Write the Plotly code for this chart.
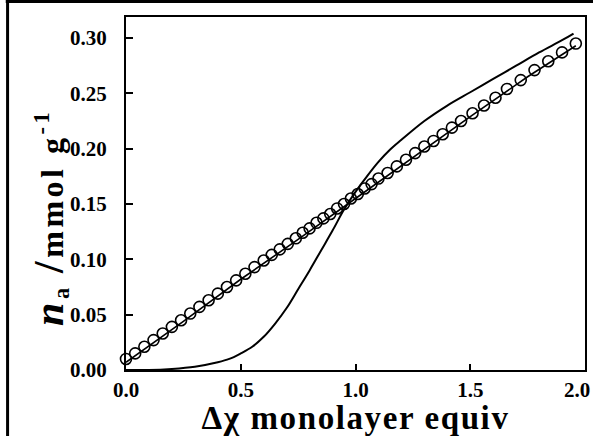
import plotly.graph_objects as go

# Measured data (open circles)
data_x = [0.00, 0.04, 0.08, 0.12, 0.16, 0.20, 0.24, 0.28, 0.32, 0.36, 0.40, 0.44, 0.48,
          0.52, 0.56, 0.60, 0.635, 0.67, 0.705, 0.74, 0.77, 0.80, 0.83, 0.86, 0.89, 0.92,
          0.95, 0.98, 1.01, 1.04, 1.07, 1.10, 1.14, 1.18, 1.22, 1.26, 1.30, 1.34, 1.38,
          1.42, 1.46, 1.51, 1.56, 1.61, 1.66, 1.72, 1.78, 1.84, 1.90, 1.96]
data_y = [0.010, 0.015, 0.021, 0.027, 0.033, 0.039, 0.045, 0.051, 0.057, 0.063, 0.069, 0.075, 0.081,
          0.087, 0.093, 0.099, 0.104, 0.109, 0.114, 0.119, 0.124, 0.128, 0.133, 0.137, 0.141, 0.146,
          0.150, 0.155, 0.159, 0.164, 0.168, 0.173, 0.178, 0.184, 0.190, 0.196, 0.202, 0.207, 0.213,
          0.219, 0.225, 0.232, 0.239, 0.246, 0.254, 0.262, 0.271, 0.279, 0.287, 0.295]

# Fit line through the circles
fit_x = [0.00, 0.25, 0.50, 0.75, 1.00, 1.25, 1.50, 1.75, 1.96]
fit_y = [0.007, 0.044, 0.082, 0.118, 0.155, 0.192, 0.229, 0.265, 0.293]

# Sigmoidal model curve
sig_x = [0.00, 0.10, 0.20, 0.30, 0.40, 0.45, 0.50, 0.55, 0.60, 0.65, 0.70, 0.75, 0.80, 0.85,
         0.90, 0.95, 1.00, 1.05, 1.10, 1.15, 1.20, 1.30, 1.40, 1.50, 1.60, 1.70, 1.80, 1.90, 1.95]
sig_y = [0.000, 0.000, 0.001, 0.003, 0.007, 0.010, 0.015, 0.021, 0.030, 0.042, 0.056, 0.073, 0.090, 0.108,
         0.126, 0.145, 0.161, 0.175, 0.188, 0.199, 0.208, 0.225, 0.239, 0.251, 0.263, 0.275, 0.287, 0.298, 0.304]

x_ticks = [0.0, 0.5, 1.0, 1.5, 2.0]
x_tick_labels = ["0.0", "0.5", "1.0", "1.5", "2.0"]
y_ticks = [0.00, 0.05, 0.10, 0.15, 0.20, 0.25, 0.30]
y_tick_labels = ["0.00", "0.05", "0.10", "0.15", "0.20", "0.25", "0.30"]

# keep the last x label inside the picture (it sits at the right edge in the original)
x_tick_text = [lab + ("&nbsp;" * 3 if i == len(x_tick_labels) - 1 else "")
               for i, lab in enumerate(x_tick_labels)]

fig = go.Figure()
fig.add_trace(go.Scatter(x=data_x, y=data_y, mode="markers",
                         marker=dict(symbol="circle-open", size=11, color="black",
                                     line=dict(width=1.6, color="black")),
                         showlegend=False, cliponaxis=False))
fig.add_trace(go.Scatter(x=fit_x, y=fit_y, mode="lines", line=dict(color="black", width=1.6),
                         showlegend=False))
fig.add_trace(go.Scatter(x=sig_x, y=sig_y, mode="lines", line=dict(color="black", width=2),
                         line_shape="spline", showlegend=False))

font_family = "Liberation Serif"
y_title = ('<b><span style="letter-spacing:3.5px"><span style="font-size:42px"><i>n</i></span>'
           '<sub>a</sub> <span style="font-size:42px">/</span>mmol g<sup>-1</sup></span></b>')
x_title = '<b><span style="letter-spacing:1.6px">Δχ monolayer equiv</span></b>'

fig.update_layout(
    width=593, height=436,
    margin=dict(l=126, r=8, t=17, b=66, autoexpand=False),
    paper_bgcolor="white", plot_bgcolor="white",
    font=dict(family=font_family, color="black"),
    xaxis=dict(range=[0, 2.0], tickvals=x_ticks, ticktext=x_tick_text, automargin=False,
               ticks="inside", ticklen=6, tickwidth=1.5, tickcolor="black",
               showline=True, linecolor="black", linewidth=2, mirror=True,
               showgrid=False, zeroline=False, ticklabeloverflow="allow",
               tickfont=dict(family=font_family, size=21, color="black", weight="bold"),
               title=dict(text=x_title, standoff=4,
                          font=dict(family=font_family, size=33, color="black"))),
    yaxis=dict(range=[0, 0.319], tickvals=y_ticks, ticktext=y_tick_labels, automargin=False,
               ticks="inside", ticklen=7, tickwidth=1.5, tickcolor="black",
               showline=True, linecolor="black", linewidth=2, mirror=True,
               showgrid=False, zeroline=False, ticklabelstandoff=13,
               tickfont=dict(family=font_family, size=21, color="black", weight="bold")),
    annotations=[
        dict(text=y_title, xref="paper", yref="paper", x=-0.166, y=0.433,
             xanchor="center", yanchor="middle", textangle=-90, showarrow=False,
             font=dict(family=font_family, size=32, color="black")),
    ],
    shapes=[
        dict(type="line", xref="paper", yref="paper", x0=-0.258, x1=-0.258, y0=1.05, y1=-0.19,
             line=dict(color="black", width=3)),
        dict(type="line", xref="paper", yref="paper", x0=-0.262, x1=1.02, y0=1.044, y1=1.044,
             line=dict(color="black", width=3)),
    ],
)

fig.write_html("out.html", config={"displayModeBar": False},
               post_script="document.body.style.margin='0';document.body.style.overflow='hidden';")
